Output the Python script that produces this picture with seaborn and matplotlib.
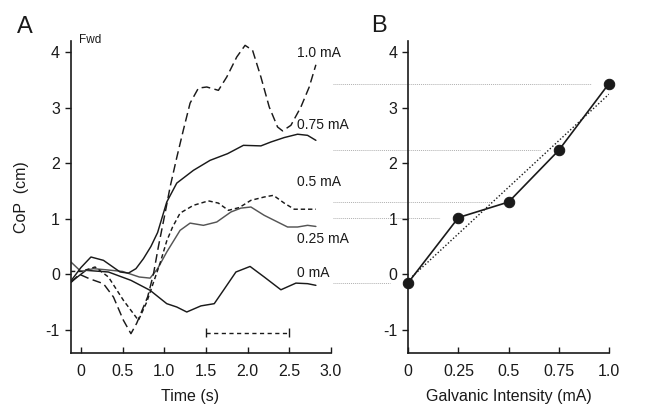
import numpy as np
import matplotlib
matplotlib.use("Agg")
import matplotlib.pyplot as plt
import seaborn as sns

# CoP traces (time in s, CoP in cm)
t_0ma = [-0.12, 0.06, 0.33, 0.6, 0.83, 1.03, 1.15, 1.27, 1.44, 1.6, 1.71, 1.86,
         2.03, 2.2, 2.4, 2.58, 2.72, 2.82]
cop_0ma = [-0.14, 0.07, 0.04, -0.11, -0.29, -0.53, -0.59, -0.68, -0.57, -0.53, -0.29,
           0.04, 0.14, -0.05, -0.28, -0.16, -0.17, -0.2]

t_025ma = [-0.12, 0.0, 0.15, 0.3, 0.5, 0.7, 0.83, 0.92, 1.03, 1.19, 1.31, 1.47, 1.63,
           1.8, 1.92, 2.04, 2.2, 2.36, 2.48, 2.6, 2.72, 2.82]
cop_025ma = [0.22, 0.05, 0.1, 0.08, 0.05, -0.05, -0.07, 0.1, 0.4, 0.79, 0.92, 0.88,
             0.94, 1.12, 1.19, 1.21, 1.06, 0.94, 0.85, 0.85, 0.88, 0.86]

t_05ma = [-0.12, 0.0, 0.17, 0.33, 0.51, 0.69, 0.79, 0.87, 0.95, 1.03, 1.1, 1.19, 1.35,
          1.53, 1.65, 1.77, 1.9, 2.04, 2.2, 2.31, 2.44, 2.56, 2.82]
cop_05ma = [0.05, 0.05, 0.13, -0.05, -0.47, -0.83, -0.5, -0.15, 0.2, 0.6, 0.85, 1.1,
            1.24, 1.32, 1.28, 1.15, 1.2, 1.33, 1.39, 1.42, 1.28, 1.17, 1.17]

t_075ma = [-0.12, 0.0, 0.12, 0.27, 0.47, 0.57, 0.66, 0.75, 0.84, 0.92, 1.03, 1.15,
           1.35, 1.55, 1.76, 1.95, 2.16, 2.28, 2.44, 2.6, 2.72, 2.82]
cop_075ma = [-0.12, 0.12, 0.31, 0.25, 0.04, 0.02, 0.1, 0.28, 0.5, 0.75, 1.3, 1.64,
             1.87, 2.05, 2.17, 2.32, 2.31, 2.38, 2.46, 2.52, 2.5, 2.41]

t_1ma = [-0.12, -0.02, 0.1, 0.27, 0.39, 0.51, 0.6, 0.67, 0.8, 0.87, 0.93, 1.01, 1.07,
         1.15, 1.23, 1.31, 1.41, 1.51, 1.65, 1.75, 1.87, 1.97, 2.06, 2.16, 2.26, 2.36,
         2.42, 2.52, 2.64, 2.74, 2.82]
cop_1ma = [-0.15, 0.0, -0.08, -0.17, -0.41, -0.83, -1.07, -0.88, -0.41, 0.0, 0.5, 1.1,
           1.57, 2.1, 2.6, 3.08, 3.35, 3.37, 3.31, 3.55, 3.91, 4.12, 4.03, 3.55, 3.01,
           2.65, 2.58, 2.68, 3.01, 3.37, 3.77]

# averaging window marker (s)
window_t = [1.5, 2.5]
window_y = -1.05

# panel B: mean CoP per galvanic intensity
intensity = [0, 0.25, 0.5, 0.75, 1.0]
mean_cop = [-0.15, 1.02, 1.3, 2.23, 3.43]
intensity_labels = ["0", "0.25", "0.5", "0.75", "1.0"]

time_ticks = [0, 0.5, 1.0, 1.5, 2.0, 2.5, 3.0]
time_labels = ["0", "0.5", "1.0", "1.5", "2.0", "2.5", "3.0"]
cop_ticks = [-1, 0, 1, 2, 3, 4]

sns.set_style("ticks")
plt.rcParams['font.family'] = ['Liberation Sans', 'DejaVu Sans']
plt.rcParams['axes.unicode_minus'] = False

INK = "#1a1a1a"
fig = plt.figure(figsize=(6.45, 4.13), dpi=100)
ax_a = fig.add_axes([0.110, 0.145, 0.403, 0.756])
ax_b = fig.add_axes([0.633, 0.145, 0.311, 0.756])

traces = [
    (t_0ma, cop_0ma, "0 mA", "-", INK, 0.02),
    (t_025ma, cop_025ma, "0.25 mA", "-", "#555555", 0.63),
    (t_05ma, cop_05ma, "0.5 mA", (0, (3, 2)), INK, 1.66),
    (t_075ma, cop_075ma, "0.75 mA", "-", INK, 2.68),
    (t_1ma, cop_1ma, "1.0 mA", (0, (6, 3)), INK, 3.98),
]
for t, cop, lab, ls, col, ly in traces:
    sns.lineplot(x=t, y=cop, ax=ax_a, color=col, linestyle=ls, linewidth=1.05,
                 sort=False, estimator=None)
    ax_a.text(2.59, ly, lab, fontsize=10, color=INK, ha="left", va="center",
              clip_on=False)

# window bar
ax_a.plot(window_t, [window_y, window_y], color=INK, linewidth=1.0,
          linestyle=(0, (3, 2.5)))
ax_a.vlines(window_t, window_y - 0.08, window_y + 0.08, color=INK, linewidth=1.0)

ax_a.set_xlim(-0.12, 3.0)
ax_a.set_ylim(-1.42, 4.2)
ax_a.set_xticks(time_ticks)
ax_a.set_xticklabels(time_labels)
ax_a.set_yticks(cop_ticks)
ax_a.set_xlabel("Time (s)", fontsize=11.5, color=INK)
ax_a.set_ylabel("CoP  (cm)", fontsize=11.5, color=INK)
ax_a.xaxis.set_label_coords(0.46, -0.115)
ax_a.yaxis.set_label_coords(-0.16, 0.5)

# panel B
sns.lineplot(x=intensity, y=mean_cop, ax=ax_b, color=INK, linewidth=1.2,
             marker="o", markersize=7.5, markeredgecolor=INK, clip_on=False)
slope, icpt = np.polyfit(intensity, mean_cop, 1)
fit_x = np.array([0.02, 1.0])
ax_b.plot(fit_x, icpt + slope * fit_x, color=INK, linestyle=(0, (1, 1.5)),
          linewidth=1.0)

# guide lines from panel A labels to the points of panel B
for xi, yi in zip(intensity, mean_cop):
    ax_b.plot([-0.373, xi - 0.09], [yi, yi], color="#b0b0b0", linewidth=0.7,
              linestyle=(0, (1, 1)), clip_on=False, zorder=0)

ax_b.set_xlim(0, 1.0)
ax_b.set_ylim(-1.42, 4.2)
ax_b.set_xticks(intensity)
ax_b.set_xticklabels(intensity_labels)
ax_b.set_yticks(cop_ticks)
ax_b.set_xlabel("Galvanic Intensity (mA)", fontsize=11.5, color=INK)
ax_b.xaxis.set_label_coords(0.5, -0.115)

for ax in (ax_a, ax_b):
    sns.despine(ax=ax)
    for s in ("left", "bottom"):
        ax.spines[s].set_color(INK)
        ax.spines[s].set_linewidth(1.2)
    ax.tick_params(axis="x", direction="in", length=4, width=1, colors=INK,
                   labelsize=11.5, pad=8)
    ax.tick_params(axis="y", direction="out", length=4, width=1, colors=INK,
                   labelsize=11.5, pad=4)

fig.text(0.027, 0.935, "A", fontsize=17, color=INK, va="center")
fig.text(0.576, 0.938, "B", fontsize=17, color=INK, va="center")
fig.text(0.122, 0.903, "Fwd", fontsize=8.5, color=INK, va="center")

fig.savefig("out.png", dpi=100)
